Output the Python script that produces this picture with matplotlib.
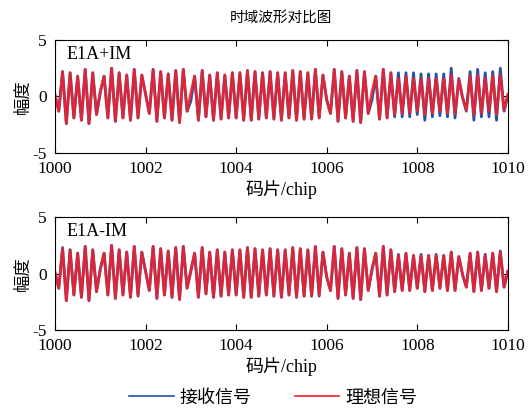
import numpy as np
import matplotlib
matplotlib.use('Agg')
import matplotlib.pyplot as plt
from matplotlib.lines import Line2D

plt.rcParams['font.family'] = ['Liberation Serif', 'Noto Sans CJK SC']
plt.rcParams['axes.unicode_minus'] = False

# 每半个副载波周期取一个极值点（1/12 码片），从 1000 到 1010 码片
chip_start = 1000
chip_end = 1010
step_per_chip = 12

# 理想信号（两幅子图相同）
ideal = [0.1, -1.3, 2.2, -2.4, 2.1, -1.9, 1.8, -2.1, 2.4, -2.4, 2.1, -1.6,
         0.4, 1.8, -1.9, 2.5, -2.2, 2.1, -1.9, 1.9, -2.1, 2.4, -1.9, 1.9,
         0.2, -1.5, 2.4, -2.2, 2.2, -1.9, 2.0, -2.1, 2.3, -2.3, 2.4, -1.3,
         0.3, 1.8, -2.1, 2.3, -1.8, 1.9, -2.1, 2.1, -2.0, 1.9, -1.9, 2.1,
         -1.9, 2.1, -2.1, 2.3, -2.1, 2.2, -2.0, 2.1, -1.9, 2.2, -2.0, 2.1,
         -2.1, 2.1, -1.9, 2.3, -2.1, 2.2, -2.0, 2.1, -2.0, 2.4, -1.9, 1.9,
         -0.3, -1.5, 2.4, -2.2, 2.2, -1.9, 1.8, -2.2, 2.3, -2.3, 2.2, -1.5,
         0.4, 1.8, -2.0, 2.4, -1.9, 2.1, -1.6, 1.6, -1.5, 1.8, -1.5, 1.6,
         -1.3, 1.6, -1.6, 1.6, -1.5, 1.6, -1.3, 1.6, -1.5, 1.9, -1.5, 1.5,
         -0.1, -1.2, 1.8, -1.6, 1.9, -1.5, 1.6, -1.3, 1.8, -1.6, 1.9, -1.2,
         0.2]

# E1A+IM 接收信号
recv_plus = [0.1, -1.3, 2.2, -2.4, 2.1, -1.9, 1.8, -2.1, 2.4, -2.4, 2.1, -1.6,
             0.4, 1.8, -1.9, 2.5, -2.2, 2.1, -1.9, 1.9, -2.1, 2.4, -1.9, 1.9,
             0.2, -1.5, 2.4, -2.2, 2.2, -1.9, 2.0, -2.1, 2.3, -2.3, 2.4, -1.3,
             -0.4, 1.8, -2.1, 2.3, -1.8, 1.9, -2.1, 2.1, -2.0, 1.9, -1.9, 2.1,
             -1.9, 2.1, -2.1, 2.3, -2.1, 2.2, -2.0, 2.1, -1.9, 2.2, -2.0, 2.1,
             -2.1, 2.1, -1.9, 2.3, -2.1, 2.2, -2.0, 2.1, -2.0, 2.4, -1.9, 1.9,
             -0.3, -1.5, 2.4, -2.2, 2.2, -1.9, 1.8, -2.2, 2.3, -2.3, 2.2, -1.5,
             -0.3, 1.8, -2.0, 2.4, -1.9, 2.1, -1.8, 2.1, -1.8, 2.1, -1.8, 2.1,
             -1.6, 2.0, -2.1, 2.0, -1.8, 2.0, -1.7, 2.0, -1.8, 2.5, -1.9, 1.6,
             -0.1, -1.3, 2.2, -2.1, 2.4, -1.8, 2.1, -1.8, 2.2, -2.1, 2.5, -1.3,
             0.1]

# E1A-IM 接收信号
recv_minus = [0.1, -1.3, 2.3, -2.4, 2.1, -1.9, 1.8, -2.1, 2.4, -2.4, 2.1, -1.6,
              0.4, 1.8, -1.9, 2.5, -2.2, 2.1, -1.9, 1.9, -2.1, 2.4, -2.0, 1.9,
              0.2, -1.5, 2.4, -2.2, 2.2, -1.9, 2.0, -2.1, 2.3, -2.3, 2.4, -1.3,
              0.2, 1.8, -2.1, 2.3, -1.8, 1.9, -2.1, 2.1, -2.0, 1.9, -1.9, 2.1,
              -1.9, 2.1, -2.1, 2.3, -2.1, 2.2, -2.0, 2.1, -1.9, 2.2, -2.0, 2.1,
              -2.1, 2.1, -1.9, 2.3, -2.1, 2.2, -2.0, 2.1, -2.0, 2.4, -2.0, 1.9,
              -0.3, -1.5, 2.4, -2.2, 2.2, -1.9, 1.8, -2.2, 2.3, -2.3, 2.2, -1.5,
              0.3, 1.8, -2.0, 2.4, -1.9, 2.1, -1.6, 1.7, -1.5, 1.8, -1.5, 1.6,
              -1.3, 1.7, -1.6, 1.6, -1.5, 1.7, -1.3, 1.6, -1.5, 1.9, -1.5, 1.5,
              -0.1, -1.2, 1.8, -1.6, 1.9, -1.5, 1.7, -1.3, 1.8, -1.6, 2.0, -1.2,
              0.2]

panel_names = ['E1A+IM', 'E1A-IM']
legend_labels = ['接收信号', '理想信号']
x_ticks = [1000, 1002, 1004, 1006, 1008, 1010]
y_ticks = [-5, 0, 5]

blue = '#2353a8'
red = '#f5202a'

chips = chip_start + np.arange(len(ideal)) / step_per_chip

fig = plt.figure(figsize=(5.29, 4.08), dpi=100)
ax1 = fig.add_axes([0.104, 0.625, 0.856, 0.277])
ax2 = fig.add_axes([0.104, 0.191, 0.856, 0.277])

for ax, recv, name in zip([ax1, ax2], [recv_plus, recv_minus], panel_names):
    ax.plot(chips, recv, color=blue, lw=2.0, solid_joinstyle='round')
    ax.plot(chips, ideal, color=red, lw=2.0, alpha=0.88, solid_joinstyle='round')
    ax.set_xlim(chip_start, chip_end)
    ax.set_ylim(-5, 5)
    ax.set_xticks(x_ticks)
    ax.set_yticks(y_ticks)
    ax.tick_params(direction='in', top=True, right=True, length=4,
                   labelsize=12.5, width=0.8)
    ax.tick_params(axis='x', pad=6)
    ax.tick_params(axis='y', pad=6)
    for s in ax.spines.values():
        s.set_linewidth(0.8)
    ax.set_xlabel('码片/chip', fontsize=13, labelpad=2)
    ax.set_ylabel('幅度', fontsize=12.5, labelpad=0)
    ax.text(0.025, 0.83, name, transform=ax.transAxes, fontsize=13)

fig.text(0.532, 1 - 18 / 408, '时域波形对比图', ha='center', va='center',
         fontsize=10.5)

handles = [Line2D([], [], color=blue, lw=1.2), Line2D([], [], color=red, lw=1.2)]
fig.legend(handles, legend_labels, loc='center', ncol=2, frameon=False,
           bbox_to_anchor=(0.517, 1 - 398 / 408), fontsize=13,
           handlelength=2.45, columnspacing=2.4, handletextpad=0.35)

fig.savefig('out.png', dpi=100)
